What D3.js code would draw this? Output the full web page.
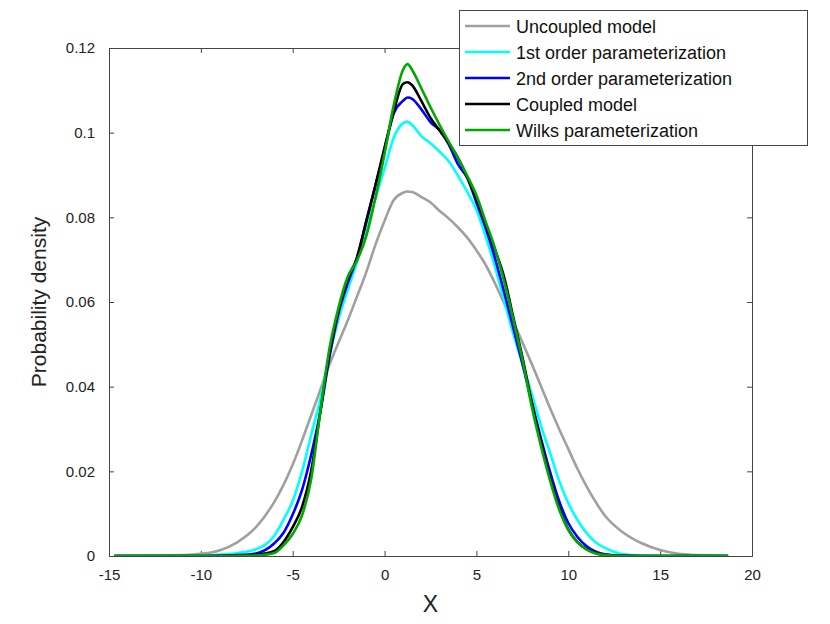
<!DOCTYPE html>
<html>
<head>
<meta charset="utf-8">
<script src="https://cdn.jsdelivr.net/npm/d3@7"></script>
<style>
  body { margin: 0; background: #fff; }
  svg { display: block; font-family: "Liberation Sans", Arial, sans-serif; }
</style>
</head>
<body>
<svg id="chart" width="830" height="624"></svg>
<script>
// ---- data ----
const xs = [-14.7, -13, -12, -11, -10, -9, -8, -7, -6, -5.5, -5, -4.5, -4, -3.5, -3, -2.5, -2, -1.5, -1, -0.5,
            0, 0.5, 1, 1.25, 1.5, 2, 2.5, 3, 3.5, 4, 4.5, 5, 5.5, 6, 6.5, 7, 7.5, 8, 8.5, 9, 9.5,
            10, 10.5, 11, 11.5, 12, 13, 14, 15, 16, 17, 18, 18.7];

const uncoupled = [0, 0.00002, 0.0001, 0.0002, 0.0005, 0.0013, 0.0033, 0.0068, 0.0128, 0.0168, 0.0216, 0.0272, 0.0332, 0.0392, 0.0452, 0.0505, 0.0557, 0.0613, 0.067, 0.0735,
                   0.0792, 0.0841, 0.0858, 0.0861, 0.086, 0.0848, 0.0835, 0.0815, 0.0797, 0.0776, 0.0752, 0.0722, 0.0688, 0.0645, 0.0598, 0.0553, 0.0505, 0.0455, 0.0403, 0.035, 0.0300,
                   0.0253, 0.0206, 0.0164, 0.0127, 0.0095, 0.0055, 0.003, 0.0014, 0.0005, 0.0002, 0.00005, 0];

const firstOrder = [0, 0, 0, 0, 0.0001, 0.0003, 0.0007, 0.0016, 0.0048, 0.0086, 0.013, 0.0198, 0.0285, 0.037, 0.0475, 0.056, 0.063, 0.0695, 0.0775, 0.0845,
                    0.0915, 0.0988, 0.1022, 0.1026, 0.1018, 0.0992, 0.0975, 0.0955, 0.0932, 0.0898, 0.086, 0.0818, 0.0755, 0.0685, 0.0605, 0.0526, 0.0455, 0.0385, 0.031, 0.0245, 0.0178,
                    0.0125, 0.0085, 0.0054, 0.0032, 0.0019, 0.0004, 0.0001, 0, 0, 0, 0, 0];

const secondOrder = [0, 0, 0, 0, 0, 0.0001, 0.0002, 0.0006, 0.003, 0.0055, 0.0098, 0.0155, 0.0238, 0.034, 0.047, 0.0575, 0.0645, 0.0705, 0.079, 0.0875,
                     0.096, 0.1046, 0.1075, 0.1083, 0.108, 0.1055, 0.1025, 0.1005, 0.0972, 0.0925, 0.0893, 0.0835, 0.0775, 0.0705, 0.0625, 0.054, 0.0455, 0.0365, 0.028, 0.02, 0.013,
                     0.0078, 0.0045, 0.0023, 0.001, 0.0004, 0.0001, 0, 0, 0, 0, 0, 0];

const coupled = [0, 0, 0, 0, 0, 0, 0.0001, 0.0003, 0.0012, 0.0033, 0.0068, 0.0115, 0.02, 0.034, 0.048, 0.058, 0.0655, 0.0705, 0.079, 0.0875,
                 0.0965, 0.105, 0.1115, 0.1119, 0.1112, 0.1075, 0.1035, 0.1005, 0.0975, 0.094, 0.0895, 0.0845, 0.0785, 0.0725, 0.066, 0.0565, 0.047, 0.0365, 0.027, 0.0185, 0.0115,
                 0.0063, 0.0033, 0.0016, 0.0007, 0.0002, 0, 0, 0, 0, 0, 0, 0];

const wilks = [0, 0, 0, 0, 0, 0, 0, 0.0001, 0.0007, 0.0025, 0.0052, 0.0095, 0.018, 0.034, 0.049, 0.0588, 0.066, 0.0698, 0.0755, 0.0845,
               0.095, 0.1065, 0.1148, 0.1162, 0.1148, 0.1105, 0.106, 0.1018, 0.0978, 0.094, 0.0898, 0.0852, 0.079, 0.0728, 0.065, 0.056, 0.0465, 0.0355, 0.0262, 0.018, 0.011,
               0.0062, 0.0032, 0.0015, 0.0006, 0.0002, 0, 0, 0, 0, 0, 0, 0];

const seriesNames = ["Uncoupled model", "1st order parameterization", "2nd order parameterization", "Coupled model", "Wilks parameterization"];
const seriesValues = [uncoupled, firstOrder, secondOrder, coupled, wilks];
const seriesColors = ["#a0a0a0", "#00ffff", "#0000ff", "#000000", "#00a800"];

const xTicks = [-15, -10, -5, 0, 5, 10, 15, 20];
const xTickLabels = ["-15", "-10", "-5", "0", "5", "10", "15", "20"];
const yTicks = [0, 0.02, 0.04, 0.06, 0.08, 0.1, 0.12];
const yTickLabels = ["0", "0.02", "0.04", "0.06", "0.08", "0.1", "0.12"];

// ---- layout ----
const svg = d3.select("#chart");
const L = 109, R = 752, T = 48, B = 556;
const x = d3.scaleLinear().domain([-15, 20]).range([L, R]);
const y = d3.scaleLinear().domain([0, 0.12]).range([B, T]);
const axisColor = "#444";

svg.append("defs").append("clipPath").attr("id", "clip")
  .append("rect").attr("x", L).attr("y", T).attr("width", R - L).attr("height", B - T);

// axes (ticks inside)
const gB = svg.append("g").attr("transform", `translate(0,${B})`)
  .call(d3.axisBottom(x).tickValues(xTicks).tickSize(-5).tickPadding(13).tickFormat((d, i) => xTickLabels[i]));
const gT = svg.append("g").attr("transform", `translate(0,${T})`)
  .call(d3.axisTop(x).tickValues(xTicks).tickSize(-5).tickFormat(""));
const gL = svg.append("g").attr("transform", `translate(${L},0)`)
  .call(d3.axisLeft(y).tickValues(yTicks).tickSize(-5).tickPadding(14).tickFormat((d, i) => yTickLabels[i]));
const gR = svg.append("g").attr("transform", `translate(${R},0)`)
  .call(d3.axisRight(y).tickValues(yTicks).tickSize(-5).tickFormat(""));

[gB, gT, gL, gR].forEach(g => {
  g.select(".domain").attr("stroke", axisColor).attr("stroke-width", 1);
  g.selectAll(".tick line").attr("stroke", axisColor);
  g.selectAll(".tick text").attr("fill", "#222").style("font-size", "15px")
    .style("font-family", '"Liberation Sans", Arial, sans-serif');
});

// lines
const line = d3.line().x((d, i) => x(xs[i])).y(d => y(d)).curve(d3.curveMonotoneX);
const gLines = svg.append("g").attr("clip-path", "url(#clip)");
seriesValues.forEach((vals, k) => {
  gLines.append("path").datum(vals)
    .attr("fill", "none")
    .attr("stroke", seriesColors[k])
    .attr("stroke-width", 2.6)
    .attr("stroke-linejoin", "round")
    .attr("d", line);
});

// axis labels
svg.append("text").attr("x", x(2.5)).attr("y", 612).attr("text-anchor", "middle")
  .style("font-size", "23px").attr("fill", "#222").text("X");
svg.append("text").attr("transform", `translate(46,${(T + B) / 2}) rotate(-90)`)
  .attr("text-anchor", "middle").style("font-size", "21px").attr("fill", "#222").text("Probability density");

// legend
const lg = svg.append("g");
lg.append("rect").attr("x", 459.5).attr("y", 10.5).attr("width", 348).attr("height", 135)
  .attr("fill", "#fff").attr("stroke", axisColor).attr("stroke-width", 1);
seriesNames.forEach((name, k) => {
  const yy = 26 + k * 26;
  lg.append("line").attr("x1", 465).attr("x2", 510).attr("y1", yy).attr("y2", yy)
    .attr("stroke", seriesColors[k]).attr("stroke-width", 2.6);
  lg.append("text").attr("x", 516).attr("y", yy + 6.5).style("font-size", "18px")
    .attr("fill", "#111").text(name);
});
</script>
</body>
</html>
